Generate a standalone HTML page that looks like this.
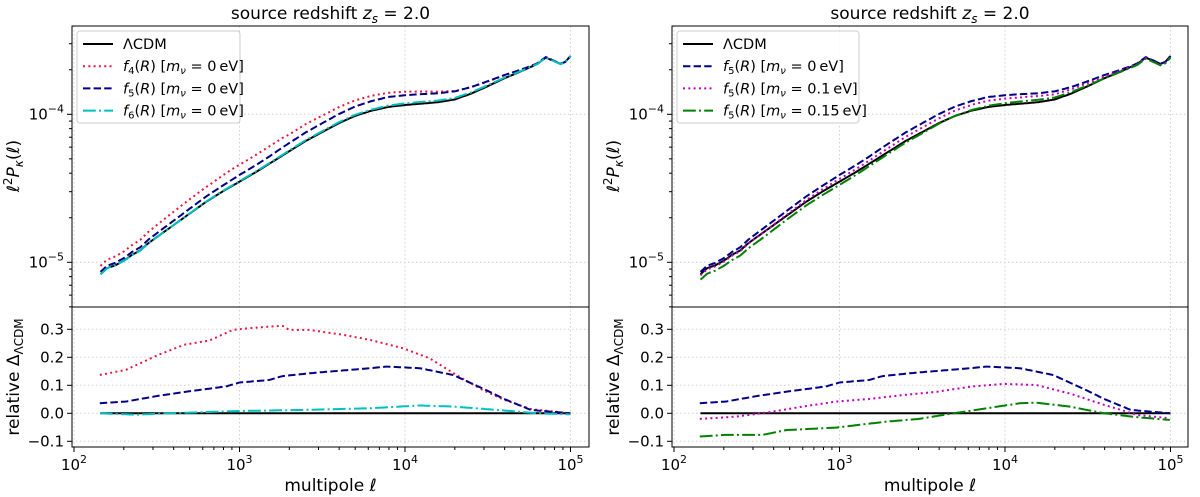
<!DOCTYPE html>
<html><head><meta charset="utf-8">
<style>
body{margin:0;background:#fff;}
svg{display:block;font-family:"DejaVu Sans","Liberation Sans",sans-serif;}
</style></head>
<body>
<svg id="fig" width="1200" height="497" viewBox="0 0 1200 497" xmlns="http://www.w3.org/2000/svg"></svg>
<script>
// ---- data ----
const lcdmLogEll = [2.16,2.2,2.25,2.3,2.35,2.4,2.45,2.5,2.6,2.7,2.8,2.9,3.0,3.1,3.2,3.3,3.4,3.5,3.6,3.7,3.8,3.9,4.0,4.1,4.2,4.3,4.4,4.5,4.6,4.7,4.8,4.85,4.9,4.94,4.97,5.0];
const lcdmLogP = [-5.08,-5.04,-5.02,-4.99,-4.95,-4.92,-4.87,-4.83,-4.75,-4.67,-4.59,-4.52,-4.455,-4.39,-4.32,-4.25,-4.18,-4.12,-4.06,-4.01,-3.975,-3.95,-3.937,-3.928,-3.918,-3.90,-3.86,-3.81,-3.757,-3.71,-3.66,-3.617,-3.64,-3.66,-3.645,-3.606];
const f4LogEll = [2.156,2.313,2.515,2.667,2.818,2.96,3.06,3.26,3.30,3.42,3.63,3.79,3.99,4.15,4.31,4.47,4.6,4.76,5.0];
const f4Delta = [0.137,0.155,0.21,0.245,0.26,0.298,0.304,0.313,0.298,0.298,0.28,0.262,0.232,0.196,0.137,0.083,0.048,0.015,0.0];
const f5LogEll = [2.156,2.313,2.515,2.677,2.919,3.0,3.18,3.26,3.48,3.79,3.89,4.09,4.29,4.49,4.6,4.76,5.0];
const f5Delta = [0.036,0.042,0.063,0.077,0.096,0.11,0.119,0.133,0.146,0.161,0.167,0.161,0.137,0.083,0.051,0.012,0.0];
const f6LogEll = [2.156,2.374,2.576,2.98,3.38,3.79,4.09,4.29,4.6,4.8,5.0];
const f6Delta = [0.0,-0.005,0.0,0.008,0.012,0.018,0.028,0.024,0.01,0.0,-0.004];
const nu01LogEll = [2.156,2.374,2.576,2.778,2.98,3.18,3.38,3.59,3.79,3.99,4.19,4.39,4.6,4.8,5.0];
const nu01Delta = [-0.02,-0.012,0.004,0.024,0.042,0.051,0.065,0.077,0.095,0.105,0.101,0.071,0.03,-0.006,-0.018];
const nu015LogEll = [2.156,2.313,2.535,2.677,2.98,3.28,3.48,3.69,3.89,4.09,4.19,4.39,4.6,4.8,5.0];
const nu015Delta = [-0.083,-0.077,-0.077,-0.06,-0.051,-0.03,-0.02,0.0,0.018,0.036,0.038,0.024,0.0,-0.014,-0.024];
const xTickLabels = ["2","3","4","5"];
const relTicks = [-0.1,0.0,0.1,0.2,0.3];
const relTickLabels = ["\u22120.1","0.0","0.1","0.2","0.3"];

const NS="http://www.w3.org/2000/svg";
const svg=document.getElementById('fig');
function el(tag,attrs,parent){const e=document.createElementNS(NS,tag);for(const k in attrs)e.setAttribute(k,attrs[k]);(parent||svg).appendChild(e);return e;}
function interp(xs,ys,x){if(x<=xs[0])return ys[0];for(let i=1;i<xs.length;i++){if(x<=xs[i]){const t=(x-xs[i-1])/(xs[i]-xs[i-1]);return ys[i-1]+t*(ys[i]-ys[i-1]);}}return ys[ys.length-1];}
function sample(xs,ys){const out=[];for(let x=xs[0];x<=xs[xs.length-1]+1e-9;x+=0.01){out.push([x,interp(xs,ys,x)]);}return out;}

const panels=[
 {x0:72,x1:589,name:'left',series:[
   {name:'f4',lx:f4LogEll,d:f4Delta,color:'#e8173e',dash:'2,3.3'},
   {name:'f5',lx:f5LogEll,d:f5Delta,color:'#00008b',dash:'7.4,3.2'},
   {name:'f6',lx:f6LogEll,d:f6Delta,color:'#00bfbf',dash:'12.8,3.2,2,3.2'}],
  legend:[['\u039bCDM','#000',''],['f4','#e8173e','2,3.3','4','0'],['f5','#00008b','7.4,3.2','5','0'],['f6','#00bfbf','12.8,3.2,2,3.2','6','0']],legW:163},
 {x0:672,x1:1188,name:'right',series:[
   {name:'f5-nu0',lx:f5LogEll,d:f5Delta,color:'#00008b',dash:'7.4,3.2'},
   {name:'f5-nu01',lx:nu01LogEll,d:nu01Delta,color:'#bf00bf',dash:'2,3.3'},
   {name:'f5-nu015',lx:nu015LogEll,d:nu015Delta,color:'#008000',dash:'12.8,3.2,2,3.2'}],
  legend:[['\u039bCDM','#000',''],['f5','#00008b','7.4,3.2','5','0'],['f5','#bf00bf','2,3.3','5','0.1'],['f5','#008000','12.8,3.2,2,3.2','5','0.15']],legW:182}
];
const topY0=26, topY1=307, botY1=447;
const yTop=l=>114.3-(l+4)*148;
const yBot=v=>413.3-v*280;

panels.forEach(p=>{
  const xl=l=>p.x0+2+(l-2)*165.5;
  const g=el('g',{});
  
  
  for(let k=2;k<=5;k++){
    el('line',{x1:xl(k),x2:xl(k),y1:topY0,y2:botY1,stroke:'#d0d0d0','stroke-dasharray':'1.5,2.5','stroke-width':1},g);
  }
  [-5,-4].forEach(k=>el('line',{x1:p.x0,x2:p.x1,y1:yTop(k),y2:yTop(k),stroke:'#d0d0d0','stroke-dasharray':'1.5,2.5'},g));
  relTicks.forEach(v=>el('line',{x1:p.x0,x2:p.x1,y1:yBot(v),y2:yBot(v),stroke:'#d0d0d0','stroke-dasharray':'1.5,2.5'},g));
  const cid='clip-'+p.name;
  const cp=el('clipPath',{id:cid},g);el('rect',{x:p.x0,y:topY0,width:p.x1-p.x0,height:botY1-topY0},cp);
  const lc=sample(lcdmLogEll,lcdmLogP);
  const lcPath=el('path',{d:'M'+lc.map(q=>xl(q[0]).toFixed(1)+','+yTop(q[1]).toFixed(1)).join('L'),fill:'none',stroke:'#000','stroke-width':2,'clip-path':`url(#${cid})`},g);
  
  
  p.series.forEach(s=>{
    const pts=lc.map(q=>[q[0],q[1]+Math.log10(1+interp(s.lx,s.d,q[0]))]);
    const path=el('path',{d:'M'+pts.map(q=>xl(q[0]).toFixed(1)+','+yTop(q[1]).toFixed(1)).join('L'),fill:'none',stroke:s.color,'stroke-width':2,'stroke-dasharray':s.dash},g);
    
    
  });
  const zero=el('line',{x1:xl(lcdmLogEll[0]),x2:xl(5),y1:yBot(0),y2:yBot(0),stroke:'#000','stroke-width':2},g);
  
  
  p.series.forEach(s=>{
    const pts=sample(s.lx,s.d);
    const path=el('path',{d:'M'+pts.map(q=>xl(q[0]).toFixed(1)+','+yBot(q[1]).toFixed(1)).join('L'),fill:'none',stroke:s.color,'stroke-width':2,'stroke-dasharray':s.dash},g);
    
    
  });
  el('rect',{x:p.x0,y:topY0,width:p.x1-p.x0,height:topY1-topY0,fill:'none',stroke:'#000','stroke-width':1},g);
  el('rect',{x:p.x0,y:topY1,width:p.x1-p.x0,height:botY1-topY1,fill:'none',stroke:'#000','stroke-width':1},g);
  for(let k=2;k<=5;k++){
    el('line',{x1:xl(k),x2:xl(k),y1:botY1,y2:botY1+5,stroke:'#000'},g);
    const t=el('text',{x:xl(k),y:botY1+23,'font-size':15,'text-anchor':'middle'},g);
    t.innerHTML='10<tspan dy="-7" font-size="11">'+xTickLabels[k-2]+'</tspan>';
    
    
    if(k<5)for(let m=2;m<=9;m++){const xx=xl(k+Math.log10(m));el('line',{x1:xx,x2:xx,y1:botY1,y2:botY1+3,stroke:'#000'},g);}
  }
  [-5,-4].forEach(k=>{
    el('line',{x1:p.x0-5,x2:p.x0,y1:yTop(k),y2:yTop(k),stroke:'#000'},g);
    const t=el('text',{x:p.x0-8,y:yTop(k)+5,'font-size':15,'text-anchor':'end'},g);
    t.innerHTML='10<tspan dy="-7" font-size="11">\u2212'+(-k)+'</tspan>';
    
    
  });
  [-6,-5,-4].forEach(k=>{for(let m=2;m<=9;m++){const yy=yTop(k+Math.log10(m));if(yy>topY0&&yy<topY1)el('line',{x1:p.x0-3,x2:p.x0,y1:yy,y2:yy,stroke:'#000'},g);}});
  relTicks.forEach((v,i)=>{
    el('line',{x1:p.x0-5,x2:p.x0,y1:yBot(v),y2:yBot(v),stroke:'#000'},g);
    const t=el('text',{x:p.x0-8,y:yBot(v)+5,'font-size':15,'text-anchor':'end'},g);
    t.textContent=relTickLabels[i];
    
    
  });
  const cx=(p.x0+p.x1)/2;
  const ti=el('text',{x:cx,y:19,'font-size':17,'text-anchor':'middle'},g);
  ti.innerHTML='source redshift <tspan font-style="italic">z</tspan><tspan font-size="12" dy="4" font-style="italic">s</tspan><tspan dy="-4"> = 2.0</tspan>';
  
  
  const xlab=el('text',{x:cx,y:491,'font-size':17,'text-anchor':'middle'},g);
  xlab.innerHTML='multipole <tspan font-style="italic">\u2113</tspan>';
  
  
  const yl=el('text',{transform:`translate(${p.x0-53},166) rotate(-90)`,'font-size':17,'text-anchor':'middle'},g);
  yl.innerHTML='<tspan font-style="italic">\u2113</tspan><tspan dy="-7" font-size="12">2</tspan><tspan dy="7" font-style="italic">P</tspan><tspan font-size="12" dy="4" font-style="italic">\u03ba</tspan><tspan dy="-4">(</tspan><tspan font-style="italic">\u2113</tspan>)';
  
  
  const yl2=el('text',{transform:`translate(${p.x0-53},377) rotate(-90)`,'font-size':17,'text-anchor':'middle'},g);
  yl2.innerHTML='relative \u0394<tspan font-size="12" dy="4">\u039bCDM</tspan>';
  
  
  const lg=el('g',{},g);
  
  
  el('rect',{x:p.x0+5,y:31,width:p.legW,height:92,rx:3,fill:'#fff','fill-opacity':0.85,stroke:'#ccc'},lg);
  p.legend.forEach((e,i)=>{
    const y=44+i*22.2;
    const ln=el('line',{x1:p.x0+11,x2:p.x0+41,y1:y,y2:y,stroke:e[1],'stroke-width':2},lg);
    if(e[2])ln.setAttribute('stroke-dasharray',e[2]);
    const t=el('text',{x:p.x0+51,y:y+5,'font-size':14.5},lg);
    if(i==0)t.textContent=e[0];
    else t.innerHTML='<tspan font-style="italic">f</tspan><tspan font-size="10" dy="3">'+e[3]+'</tspan><tspan dy="-3">(</tspan><tspan font-style="italic">R</tspan>) [<tspan font-style="italic">m</tspan><tspan font-size="10" dy="3" font-style="italic">\u03bd</tspan><tspan dy="-3"> = '+e[4]+'\u2009eV]</tspan>';
    
    
  });
});
</script>
</body></html>
